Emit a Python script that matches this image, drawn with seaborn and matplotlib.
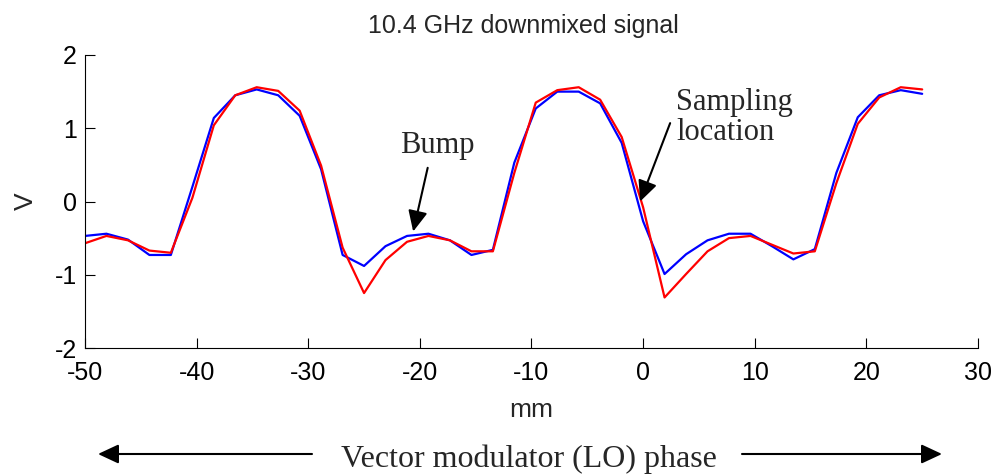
import seaborn as sns
import matplotlib.pyplot as plt

# posicao (mm) e tensao (V)
x_mm = [-50.00, -48.08, -46.15, -44.23, -42.31, -40.38, -38.46, -36.54, -34.62, -32.69,
        -30.77, -28.85, -26.92, -25.00, -23.08, -21.15, -19.23, -17.31, -15.38, -13.46,
        -11.54, -9.62, -7.69, -5.77, -3.85, -1.92, 0.00, 1.92, 3.85, 5.77,
        7.69, 9.62, 11.54, 13.46, 15.38, 17.31, 19.23, 21.15, 23.08, 25.00]

blue_v = [-0.47, -0.44, -0.52, -0.73, -0.73, 0.20, 1.14, 1.45, 1.53, 1.45,
          1.17, 0.44, -0.73, -0.88, -0.61, -0.47, -0.44, -0.53, -0.73, -0.66,
          0.53, 1.27, 1.50, 1.50, 1.34, 0.80, -0.27, -0.99, -0.72, -0.53,
          -0.44, -0.44, -0.61, -0.79, -0.65, 0.39, 1.15, 1.45, 1.52, 1.47]

red_v = [-0.57, -0.47, -0.53, -0.67, -0.70, 0.05, 1.04, 1.45, 1.56, 1.51,
         1.24, 0.49, -0.63, -1.25, -0.80, -0.55, -0.47, -0.53, -0.68, -0.68,
         0.39, 1.35, 1.52, 1.56, 1.39, 0.88, -0.08, -1.31, -0.99, -0.68,
         -0.50, -0.47, -0.59, -0.71, -0.68, 0.25, 1.06, 1.42, 1.56, 1.53]

x_ticks = [-50, -40, -30, -20, -10, 0, 10, 20, 30]
y_ticks = [-2, -1, 0, 1, 2]

sns.set_style("white")
plt.rcParams['font.family'] = ['Liberation Sans', 'DejaVu Sans']
plt.rcParams['axes.unicode_minus'] = False
serif = ['Liberation Serif', 'DejaVu Serif']

fig = plt.figure(figsize=(9.95, 4.76), dpi=100)
ax = fig.add_axes([85 / 995, 1 - 348 / 476, 893 / 995, 293 / 476])

sns.lineplot(x=x_mm, y=blue_v, color='#0000ff', lw=1.6, ax=ax)
sns.lineplot(x=x_mm, y=red_v, color='#ff0000', lw=1.6, ax=ax)

ax.set_xlim(-50, 30)
ax.set_ylim(-2, 2)
ax.set_xticks(x_ticks)
ax.set_yticks(y_ticks)
ax.tick_params(direction='in', length=7, width=0.8, labelsize=18,
               colors='black', bottom=True, left=True)
ax.tick_params(axis='x', pad=9)
ax.tick_params(axis='y', pad=6)
for s in ['top', 'right']:
    ax.spines[s].set_visible(False)
for s in ['left', 'bottom']:
    ax.spines[s].set_color('black')
    ax.spines[s].set_linewidth(0.8)

ax.set_title('10.4 GHz downmixed signal', fontsize=18, pad=16, x=0.491)
ax.set_xlabel('mm', fontsize=19)
ax.xaxis.set_label_coords(0.5, -0.171)
ax.set_ylabel('V', fontsize=19)
ax.yaxis.set_label_coords(-0.053, 0.5)

arrow = dict(arrowstyle='-|>,head_length=0.6,head_width=0.28', color='black',
             lw=1.5, mutation_scale=21, shrinkA=0, shrinkB=0)

# anotacoes
ax.text(-18.4, 0.76, 'Bump', ha='center', va='center', fontsize=22, family=serif)
ax.annotate('', xy=(-20.6, -0.41), xytext=(-19.3, 0.46), arrowprops=arrow)

ax.text(2.96, 1.55, 'Sampling\nlocation', ha='left', va='top', fontsize=22,
        family=serif, linespacing=1.05)
ax.annotate('', xy=(-0.27, 0.0), xytext=(2.42, 1.07), arrowprops=arrow)

# seta da fase do LO embaixo
fig.text(528.5 / 995, 1 - 467 / 476, 'Vector modulator (LO) phase', ha='center',
         va='baseline', fontsize=23, family=serif)
ax.annotate('', xy=(98 / 995, 1 - 454 / 476), xytext=(312 / 995, 1 - 454 / 476),
            xycoords='figure fraction', arrowprops=arrow)
ax.annotate('', xy=(942 / 995, 1 - 454 / 476), xytext=(742 / 995, 1 - 454 / 476),
            xycoords='figure fraction', arrowprops=arrow)

plt.savefig('out.png', dpi=100)
